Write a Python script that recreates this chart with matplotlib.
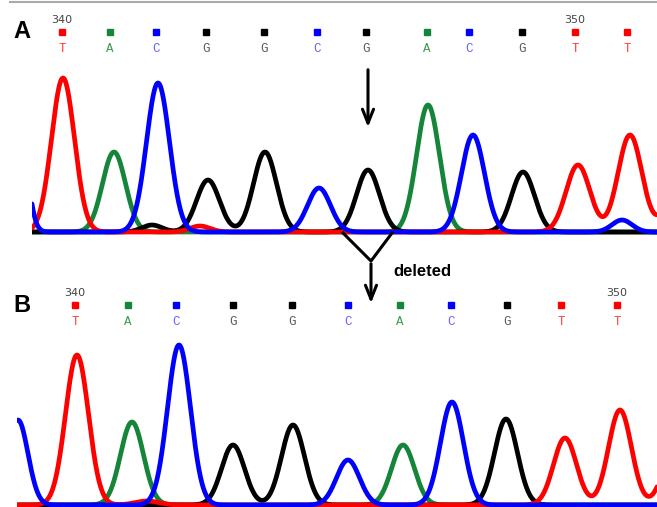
import numpy
import matplotlib
matplotlib.use("Agg")
import matplotlib.pyplot as pyplot
from matplotlib.lines import Line2D

# Base calls (A = wild type, B = sample with the G deleted)
calls_a = ["T", "A", "C", "G", "G", "C", "G", "A", "C", "G", "T", "T"]
call_pos_a = [62, 110, 156, 206, 264, 317, 366, 427, 469, 522, 575, 627]
calls_b = ["T", "A", "C", "G", "G", "C", "A", "C", "G", "T", "T"]
call_pos_b = [75, 128, 176, 233, 292, 348, 400, 451, 507, 561, 617]
first_base = 340

# Trace peaks: dye channel, scan position, signal, peak width
peak_base_a = ["C", "T", "A", "G", "C", "T", "G", "G", "C", "G", "A", "C", "G", "T", "C", "T", "T"]
peak_pos_a = [18, 63, 114, 152, 158, 200, 208, 265, 319, 368, 428, 473, 523, 578, 622, 630, 680]
peak_height_a = [1300, 1540, 800, 70, 1490, 60, 520, 800, 440, 620, 1270, 970, 600, 670, 120, 970, 600]
peak_width_a = [8, 11.5, 11.5, 10, 11.5, 10, 11.5, 11.5, 11.5, 11.5, 11.5, 11.5, 11.5, 12, 10, 12, 12]

peak_base_b = ["C", "T", "T", "A", "C", "G", "G", "C", "A", "C", "G", "T", "T", "T"]
peak_pos_b = [18, 77, 147, 132, 179, 233, 293, 348, 403, 452, 506, 565, 620, 675]
peak_height_b = [850, 1500, 40, 830, 1600, 600, 800, 450, 600, 1030, 860, 670, 950, 600]
peak_width_b = [10, 11.5, 12, 11.5, 11.5, 11.5, 11.5, 11.5, 11.5, 11.5, 11.5, 11.5, 11.5, 11.5]

trace_colors = {"A": "#15853a", "C": "#0000ff", "G": "#000000", "T": "#ff0000"}
letter_colors = {"A": "#3d9b4e", "C": "#6464ff", "G": "#5a5a5a", "T": "#ff3b3b"}

# rows above the baseline (signal units)
MARK_Y = 2000
LETTER_Y = 1830
NUMBER_Y = 2120


def draw_panel(ax, calls, call_pos, bases, pos, heights, widths, xlim, ylim):
	scans = numpy.linspace(xlim[0], xlim[1], 2000)

	# green first, blue on top
	for base in ["A", "G", "T", "C"]:
		signal = numpy.zeros_like(scans)
		for b, p, h, w in zip(bases, pos, heights, widths):
			if b == base:
				signal += h * numpy.exp(-0.5 * ((scans - p) / w) ** 2)
		ax.plot(scans, signal, color=trace_colors[base], lw=3.4, solid_capstyle="round")

	for i in range(len(calls)):
		ax.plot(call_pos[i], MARK_Y, marker="s", ms=4.8, color=trace_colors[calls[i]], clip_on=False)
		ax.text(call_pos[i], LETTER_Y, calls[i], family="Liberation Mono", fontsize=9,
			color=letter_colors[calls[i]], ha="center", va="center")
		if i % 10 == 0:
			ax.text(call_pos[i], NUMBER_Y, str(first_base + i), fontsize=8,
				color="#444444", ha="center", va="center")

	ax.set_xlim(xlim)
	ax.set_ylim(ylim)
	ax.axis("off")


fig = pyplot.figure(figsize=(6.57, 5.07), dpi=100)

ax_a = fig.add_axes([32 / 657, 267 / 507, 625 / 657, 230 / 507])
draw_panel(ax_a, calls_a, call_pos_a, peak_base_a, peak_pos_a, peak_height_a, peak_width_a,
	(32, 657), (-80, 2220))

ax_b = fig.add_axes([17 / 657, 0, 640 / 657, 222 / 507])
draw_panel(ax_b, calls_b, call_pos_b, peak_base_b, peak_pos_b, peak_height_b, peak_width_b,
	(17, 657), (-20, 2200))

# arrow on the G that is lost
del_pos = call_pos_a[6] + 2
ax_a.annotate("", xy=(del_pos, 1020), xytext=(del_pos, 1650),
	arrowprops=dict(arrowstyle="->, head_width=0.4, head_length=1.0", lw=2.2, color="black"))

# "Y" joining the flanks of the deleted peak, then down to panel B
ax_a.plot([del_pos - 25, del_pos + 3, del_pos + 24], [-10, -290, -10], color="black", lw=2.2, clip_on=False)
ax_a.annotate("", xy=(del_pos + 3, -740), xytext=(del_pos + 3, -290), annotation_clip=False,
	arrowprops=dict(arrowstyle="->, head_width=0.4, head_length=1.0", lw=2.2, color="black"))
ax_a.text(del_pos + 25, -390, "deleted", fontsize=12, fontweight="bold", family="Liberation Sans",
	ha="left", va="center")

fig.text(22 / 657, 1 - 32 / 507, "A", fontsize=17, fontweight="bold", family="Liberation Sans",
	ha="center", va="center")
fig.text(22 / 657, 1 - 306 / 507, "B", fontsize=17, fontweight="bold", family="Liberation Sans",
	ha="center", va="center")

# thin grey rule at the top
fig.add_artist(Line2D([10 / 657, 1], [1 - 1.5 / 507, 1 - 1.5 / 507], color="#aaaaaa", lw=1.5))

fig.savefig("out.png", dpi=100)
pyplot.close()
